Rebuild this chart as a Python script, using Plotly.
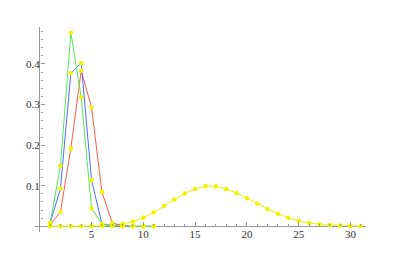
import plotly.graph_objects as go

x_short = list(range(1, 12))
green_vals = [0.007, 0.149, 0.477, 0.318, 0.044, 0.006, 0.001, 0, 0, 0, 0]
blue_vals = [0.008, 0.093, 0.377, 0.402, 0.114, 0.006, 0.002, 0, 0, 0, 0]
red_vals = [0.004, 0.035, 0.192, 0.383, 0.293, 0.085, 0.008, 0.002, 0, 0, 0]

x_long = list(range(1, 32))
yellow_vals = [0.0, 0.0, 0.0, 0.0, 0.0005, 0.001, 0.003, 0.006, 0.012, 0.021,
               0.034, 0.050, 0.066, 0.081, 0.092, 0.099, 0.099, 0.092, 0.082, 0.069,
               0.056, 0.042, 0.031, 0.021, 0.013, 0.008, 0.005, 0.003, 0.002, 0.001,
               0.0005]

x_ticks = [5, 10, 15, 20, 25, 30]
y_ticks = [0.1, 0.2, 0.3, 0.4]
y_tick_labels = ["0.1", "0.2", "0.3", "0.4"]

marker_color = "#f2f200"
fig = go.Figure()
series = [
    (x_long, yellow_vals, "#f0f000"),
    (x_short, red_vals, "#ff5a45"),
    (x_short, blue_vals, "#4d6bff"),
    (x_short, green_vals, "#55e855"),
]
for xs, ys, col in series:
    fig.add_trace(go.Scatter(x=xs, y=ys, mode="lines", line=dict(color=col, width=1),
                             cliponaxis=False, showlegend=False))
for xs, ys, col in series:
    fig.add_trace(go.Scatter(x=xs, y=ys, mode="markers",
                             marker=dict(color=marker_color, size=4.5),
                             cliponaxis=False, showlegend=False))

xr = [-0.46, 31.5]
yr = [-0.014, 0.491]
tick_font = dict(family="Liberation Serif, Times New Roman, serif", size=11, color="#333")
fig.update_layout(
    width=402, height=264,
    margin=dict(l=27, r=43.5, t=19, b=40.3, autoexpand=False),
    paper_bgcolor="white", plot_bgcolor="white",
    font=tick_font,
    xaxis=dict(range=xr, showgrid=False, zeroline=True, zerolinecolor="#999",
               zerolinewidth=1, showline=False, automargin=False,
               anchor="free", position=(0 - yr[0]) / (yr[1] - yr[0]),
               tickvals=x_ticks, ticks="inside", ticklen=4, tickcolor="#999",
               tickfont=tick_font,
               minor=dict(dtick=1, tick0=0, ticks="inside", ticklen=2, tickcolor="#999")),
    yaxis=dict(range=yr, showgrid=False, zeroline=True, zerolinecolor="#999",
               zerolinewidth=1, showline=False, automargin=False,
               anchor="free", position=(0 - xr[0]) / (xr[1] - xr[0]),
               tickvals=y_ticks, ticktext=y_tick_labels, ticks="inside", ticklen=4,
               tickcolor="#999", tickfont=tick_font,
               minor=dict(dtick=0.02, tick0=0, ticks="inside", ticklen=2, tickcolor="#999")),
)
fig.write_html("out.html")
